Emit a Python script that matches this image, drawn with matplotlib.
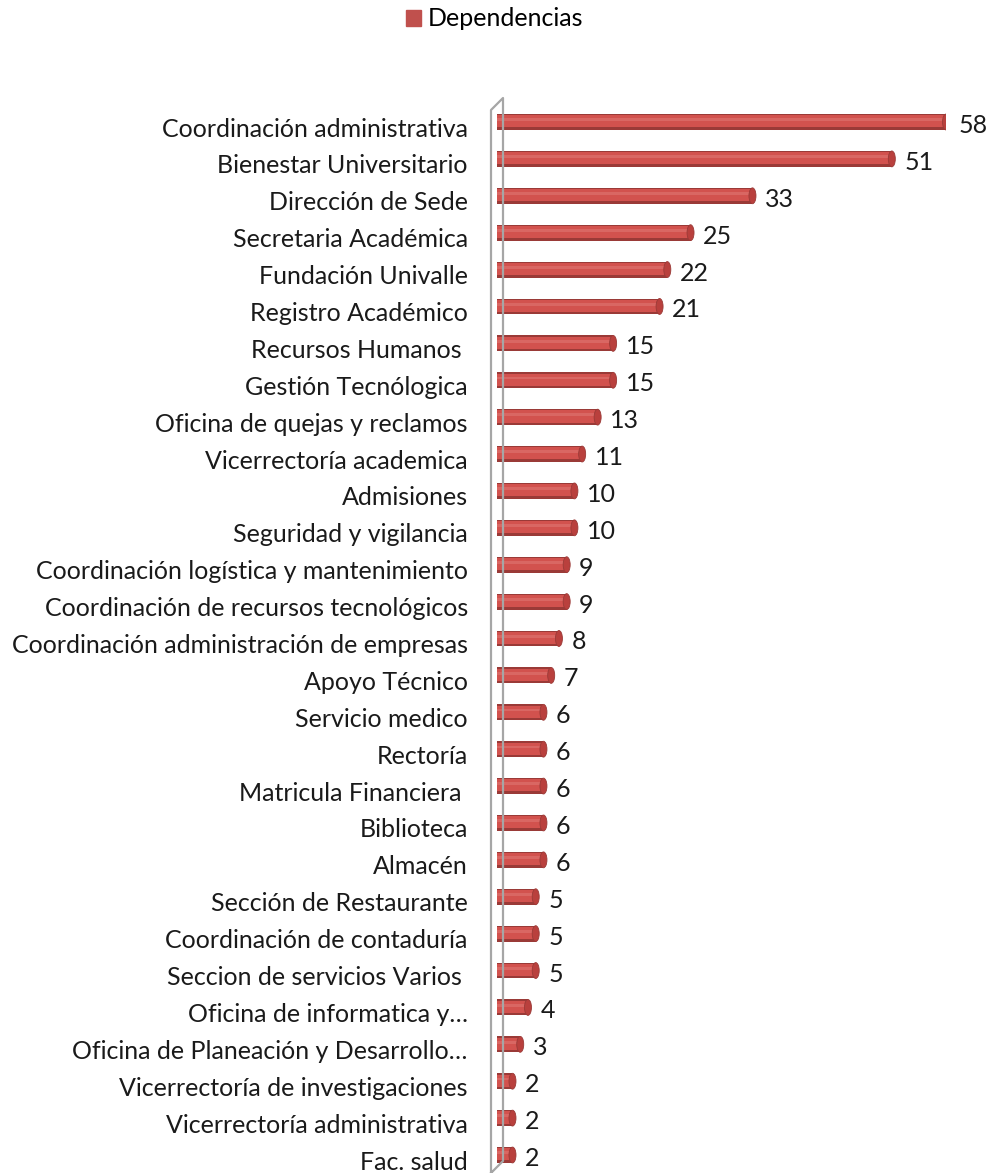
import matplotlib
matplotlib.use("Agg")
import matplotlib.pyplot as plt
from matplotlib.patches import Ellipse, Patch
from matplotlib.lines import Line2D
import matplotlib.transforms as mtransforms

categories = [
    "Coordinación administrativa", "Bienestar Universitario", "Dirección de Sede",
    "Secretaria Académica", "Fundación Univalle", "Registro Académico",
    "Recursos Humanos ", "Gestión Tecnólogica", "Oficina de quejas y reclamos",
    "Vicerrectoría academica", "Admisiones", "Seguridad y vigilancia",
    "Coordinación logística y mantenimiento", "Coordinación de recursos tecnológicos",
    "Coordinación administración de empresas", "Apoyo Técnico", "Servicio medico",
    "Rectoría", "Matricula Financiera ", "Biblioteca", "Almacén",
    "Sección de Restaurante", "Coordinación de contaduría", "Seccion de servicios Varios ",
    "Oficina de informatica y…", "Oficina de Planeación y Desarrollo…",
    "Vicerrectoría de investigaciones", "Vicerrectoría administrativa", "Fac. salud",
]
values = [58, 51, 33, 25, 22, 21, 15, 15, 13, 11, 10, 10, 9, 9, 8, 7, 6, 6, 6, 6, 6,
          5, 5, 5, 4, 3, 2, 2, 2]
series_name = "Dependencias"

plt.rcParams['font.family'] = ['Lato', 'DejaVu Sans']
FS = 18

W, H, DPI = 989, 1173, 100
fig = plt.figure(figsize=(W / DPI, H / DPI), dpi=DPI)

x0, x1 = 497, 946
y_top, y_bot = 122, 1155
n = len(categories)
step = (y_bot - y_top) / (n - 1)
ax_top = y_top - step / 2
ax_bot = y_bot + step / 2
ax = fig.add_axes([x0 / W, 1 - ax_bot / H, (x1 - x0) / W, (ax_bot - ax_top) / H])
ax.set_xlim(0, 58)
ax.set_ylim(n - 0.5, -0.5)

main = '#C0504D'
mid = '#D2524E'
dark = '#9A3A37'
light = '#E3817D'
bh = 0.43
ys = list(range(n))
ax.barh(ys, values, height=bh, color=dark, linewidth=0, zorder=3)
ax.barh([y - bh * 0.04 for y in ys], values, height=bh * 0.76, color=mid,
        linewidth=0, zorder=4)
ax.barh([y - bh * 0.14 for y in ys], values, height=bh * 0.18, color=light,
        linewidth=0, zorder=4, alpha=0.45)
cap_w = 7 / ((x1 - x0) / 58)
for y, v in zip(ys, values):
    ax.add_patch(Ellipse((v, y), cap_w, bh, facecolor='#B9403D', edgecolor=dark,
                         linewidth=0.6, zorder=5))
    ax.annotate(str(v), (v, y), xytext=(9, -2.5), textcoords='offset points',
                va='center', ha='left', fontsize=FS, color='#1a1a1a')

ax.set_yticks(ys)
ax.set_yticklabels(categories, fontsize=FS, color='#1a1a1a')
ax.tick_params(axis='y', length=0, pad=21)
off = mtransforms.ScaledTranslation(0, -5 / DPI, fig.dpi_scale_trans)
for lab in ax.get_yticklabels():
    lab.set_transform(lab.get_transform() + off)
ax.set_xticks([])
for s in ax.spines.values():
    s.set_visible(False)

# 3D wall outline
px = lambda x, y: (x / W, 1 - y / H)
wall = [px(491, 1173), px(491, 110), px(503, 98), px(503, 1161), px(491, 1173)]
fig.add_artist(Line2D([p[0] for p in wall], [p[1] for p in wall],
                      transform=fig.transFigure, color='#A6A6A6', lw=1.6, zorder=1))

fig.legend(handles=[Patch(facecolor=main, edgecolor=main)], labels=[series_name],
           loc='center', bbox_to_anchor=(0.5, 1 - 19 / H), frameon=False,
           fontsize=FS, handlelength=0.6, handleheight=0.6, handletextpad=0.3)

fig.savefig('out.png', dpi=DPI)
